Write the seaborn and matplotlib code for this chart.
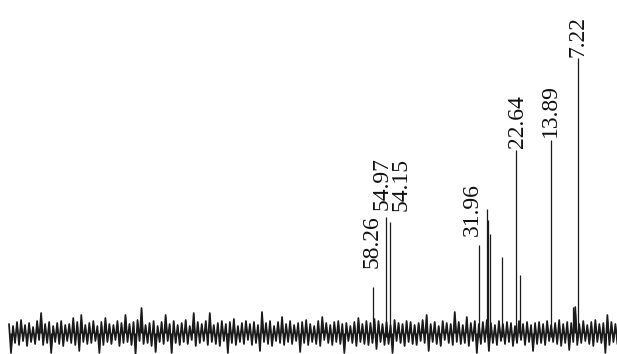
import numpy as np
import pandas as pd
import matplotlib
matplotlib.use("Agg")
import matplotlib.pyplot as plt
import seaborn as sns

# 13C NMR spectrum, chemical shifts in ppm, intensities in arbitrary units
peak_ppm = [58.26, 54.97, 54.15, 31.96, 29.87, 29.62, 29.10, 26.15, 22.64, 21.66, 13.89, 8.46, 7.22]
peak_height = [46, 116, 111, 88, 124, 113, 99, 76, 183, 58, 193, 26, 275]

# labelled peaks and where their labels sit
label_ppm = [58.26, 54.97, 54.15, 31.96, 22.64, 13.89, 7.22]
label_text = ["58.26", "54.97", "54.15", "31.96", "22.64", "13.89", "7.22"]
label_y = [65, 123, 122, 97, 185, 196, 276]
label_dx = [-1, -4, 12, -6, 1, -1, 0]  # pixel nudges for crowded labels

# baseline noise envelope (upper / lower excursions)
noise_start = 148.9
noise_step = 1.0
noise_hi = [
    9, 7, 11, 13, 8, 10, 6, 12, 20, 9,
    11, 7, 10, 12, 8, 9, 15, 11, 18, 8,
    10, 12, 7, 11, 15, 9, 8, 12, 10, 18,
    9, 11, 13, 25, 8, 10, 12, 7, 11, 18,
    9, 12, 8, 10, 13, 7, 20, 11, 9, 12,
    20, 8, 10, 12, 9, 11, 14, 7, 10, 12,
    9, 11, 8, 21, 10, 12, 7, 11, 16, 9,
    12, 8, 10, 11, 13, 9, 7, 12, 16, 10,
    8, 11, 12, 9, 10, 7, 11, 15, 9, 12,
    10, 14, 12, 9, 11, 8, 13, 10, 9, 12,
    11, 8, 10, 13, 18, 9, 11, 7, 12, 10,
    9, 21, 11, 8, 16, 10, 12, 9, 11, 13,
    10, 8, 12, 9, 11, 10, 7, 12, 9, 11,
    8, 10, 11, 9, 12, 8, 10, 13, 9, 11,
    10, 26, 9, 12, 8, 11, 13, 9, 10, 18,
    11, 9,
]
noise_lo = [
    -20, -10, -12, -8, -13, -9, -11, -7, -12, -10,
    -20, -9, -11, -13, -8, -10, -12, -18, -9, -11,
    -10, -8, -20, -12, -9, -11, -7, -13, -10, -9,
    -12, -21, -8, -11, -10, -13, -19, -9, -11, -8,
    -20, -10, -12, -9, -11, -7, -13, -10, -8, -12,
    -9, -11, -13, -8, -20, -10, -12, -9, -11, -7,
    -12, -10, -18, -9, -11, -13, -8, -10, -12, -9,
    -11, -8, -19, -10, -12, -9, -11, -13, -7, -10,
    -12, -9, -11, -20, -8, -10, -13, -9, -11, -12,
    -10, -16, -9, -12, -11, -20, -8, -10, -13, -9,
    -11, -12, -8, -10, -18, -9, -11, -13, -7, -10,
    -12, -9, -11, -10, -13, -8, -20, -11, -9, -18,
    -10, -12, -8, -11, -9, -13, -10, -7, -12, -9,
    -18, -11, -10, -12, -8, -9, -11, -13, -10, -17,
    -9, -12, -10, -8, -11, -13, -9, -10, -20, -12,
    -9, -11,
]

sns.set_theme(style="white")
plt.rcParams["font.family"] = ["Liberation Serif", "DejaVu Serif"]

# interleave upper and lower excursions into one trace
hi_ppm = noise_start - noise_step * np.arange(len(noise_hi))
lo_ppm = hi_ppm - noise_step / 2
trace = pd.DataFrame({
    "ppm": np.column_stack([hi_ppm, lo_ppm]).ravel(),
    "intensity": np.column_stack([noise_hi, noise_lo]).ravel(),
})

fig = plt.figure(figsize=(6.17, 3.54), dpi=100)
ax = fig.add_axes([0, 0, 1, 1])

# dense noise band: fill the trace towards the baseline, then stroke it
ax.fill_between(trace["ppm"], trace["intensity"], 0, color="#111111", linewidth=0)
sns.lineplot(data=trace, x="ppm", y="intensity", ax=ax, color="#1a1a1a",
             linewidth=1.25, estimator=None, sort=False)
ax.vlines(peak_ppm, -4, peak_height, color="#1a1a1a", linewidth=0.9)

for ppm, txt, y, dx in zip(label_ppm, label_text, label_y, label_dx):
    ax.annotate(txt, xy=(ppm, y), xytext=(dx * 0.72, 0), textcoords="offset points",
                rotation=90, ha="center", va="bottom", fontsize=17,
                family=["Liberation Serif", "DejaVu Serif"], color="#111111")

ax.set_xlim(151.14, -2.50)
ax.set_ylim(-21, 333)
ax.set_axis_off()

fig.savefig("out.png", dpi=100)
plt.close(fig)
